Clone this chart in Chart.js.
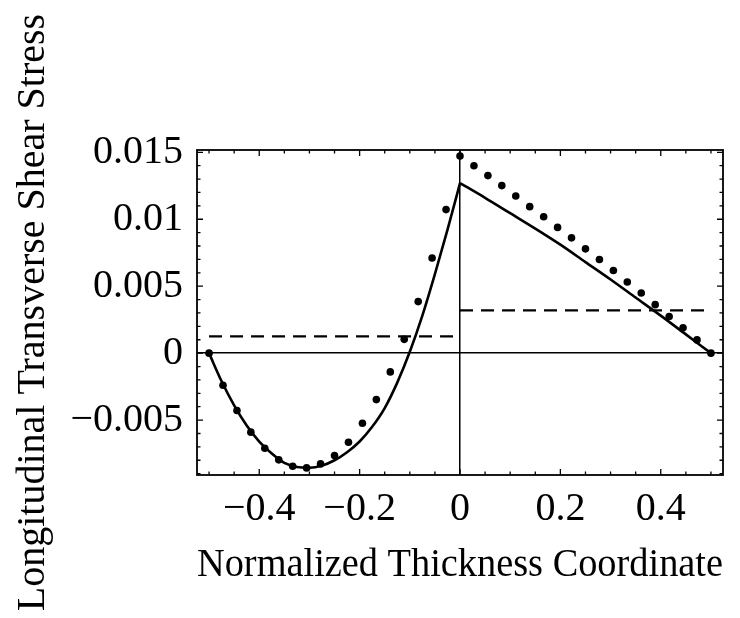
<!DOCTYPE html>
<html>
<head>
<meta charset="utf-8">
<script src="https://cdn.jsdelivr.net/npm/chart.js@4/dist/chart.umd.min.js"></script>
<style>
  html, body { margin: 0; padding: 0; background: #ffffff; }
  #wrap { width: 740px; height: 618px; }
</style>
</head>
<body>
<div id="wrap"><canvas id="c" width="740" height="618"></canvas></div>
<script>
// ---- Data ----
const dotX = [-0.5, -0.4722, -0.4444, -0.4167, -0.3889, -0.3611, -0.3333, -0.3056, -0.2778, -0.25,
              -0.2222, -0.1944, -0.1667, -0.1389, -0.1111, -0.0833, -0.0556, -0.0278, 0,
              0.0278, 0.0556, 0.0833, 0.1111, 0.1389, 0.1667, 0.1944, 0.2222, 0.25,
              0.2778, 0.3056, 0.3333, 0.3611, 0.3889, 0.4167, 0.4444, 0.4722, 0.5];
const dotY = [0, -0.0024, -0.00428, -0.0059, -0.0071, -0.00797, -0.00845, -0.00857, -0.00827, -0.00765,
              -0.00665, -0.00523, -0.00347, -0.0014, 0.00103, 0.00385, 0.0071, 0.01072, 0.01472,
              0.01399, 0.01326, 0.01251, 0.01174, 0.01094, 0.01019, 0.00939, 0.00861, 0.00779,
              0.00699, 0.00617, 0.00531, 0.00449, 0.00362, 0.00274, 0.00189, 0.00099, 0];

const leftCurveX = [-0.5, -0.475, -0.45, -0.425, -0.4, -0.375, -0.35, -0.325, -0.3, -0.275, -0.25,
                    -0.225, -0.2, -0.175, -0.15, -0.125, -0.1, -0.075, -0.05, -0.025, 0];
const leftCurveY = [0, -0.0021, -0.0039, -0.0054, -0.0066, -0.0075, -0.0082, -0.0085, -0.00856, -0.0084, -0.0080,
                    -0.0074, -0.0066, -0.0055, -0.0041, -0.0022, 0.0001, 0.0028, 0.0059, 0.0092, 0.0127];

const rightCurveX = [0, 0.05, 0.1, 0.15, 0.2, 0.25, 0.3, 0.35, 0.4, 0.45, 0.5];
const rightCurveY = [0.0127, 0.0116, 0.01045, 0.0093, 0.0081, 0.0068, 0.0055, 0.00415, 0.0028, 0.0014, 0];

const leftDashX = [-0.5, 0];
const leftDashY = [0.00125, 0.00125];
const rightDashX = [0, 0.5];
const rightDashY = [0.0032, 0.0032];

const xTickValues = [-0.4, -0.2, 0, 0.2, 0.4];
const xTickLabels = ['\u22120.4', '\u22120.2', '0', '0.2', '0.4'];
const yTickValues = [-0.005, 0, 0.005, 0.01, 0.015];
const yTickLabels = ['\u22120.005', '0', '0.005', '0.01', '0.015'];

const xTitle = 'Normalized Thickness Coordinate';
const yTitle = 'Longitudinal Transverse Shear Stress';

// ---- helpers ----
const pts = (xs, ys) => xs.map((x, i) => ({ x: x, y: ys[i] }));
const FONT = 'Liberation Serif, Times New Roman, serif';

const framePlugin = {
  id: 'frame',
  afterDatasetsDraw(chart) {
    const { ctx, chartArea: a, scales } = chart;
    const xs = scales.x, ys = scales.y;
    ctx.save();
    ctx.strokeStyle = '#000';
    ctx.lineWidth = 1.8;
    ctx.strokeRect(a.left, a.top, a.right - a.left, a.bottom - a.top);
    ctx.lineWidth = 1.3;
    const major = 6, minor = 3.5;
    ctx.beginPath();
    for (let k = -10; k <= 10; k++) {
      const v = k * 0.05;
      const isMajor = xTickValues.some(t => Math.abs(t - v) < 1e-9);
      const len = isMajor ? major : minor;
      const px = xs.getPixelForValue(v);
      if (px < a.left || px > a.right) continue;
      ctx.moveTo(px, a.bottom); ctx.lineTo(px, a.bottom - len);
      ctx.moveTo(px, a.top); ctx.lineTo(px, a.top + len);
    }
    for (let k = -9; k <= 15; k++) {
      const v = k * 0.001;
      const isMajor = yTickValues.some(t => Math.abs(t - v) < 1e-9);
      const len = isMajor ? major : minor;
      const py = ys.getPixelForValue(v);
      if (py < a.top || py > a.bottom) continue;
      ctx.moveTo(a.left, py); ctx.lineTo(a.left + len, py);
      ctx.moveTo(a.right, py); ctx.lineTo(a.right - len, py);
    }
    ctx.stroke();
    ctx.restore();
  }
};

const zeroGrid = (c) => (c.tick && Math.abs(c.tick.value) < 1e-12) ? '#000' : 'rgba(0,0,0,0)';

new Chart(document.getElementById('c'), {
  type: 'scatter',
  data: {
    datasets: [
      {
        type: 'line', data: pts(leftCurveX, leftCurveY), borderColor: '#000', borderWidth: 2.6,
        pointRadius: 0, cubicInterpolationMode: 'monotone', fill: false
      },
      {
        type: 'line', data: pts(rightCurveX, rightCurveY), borderColor: '#000', borderWidth: 2.6,
        pointRadius: 0, cubicInterpolationMode: 'monotone', fill: false
      },
      {
        type: 'line', data: pts(leftDashX, leftDashY), borderColor: '#000', borderWidth: 2.2,
        borderDash: [13, 8], pointRadius: 0, fill: false
      },
      {
        type: 'line', data: pts(rightDashX, rightDashY), borderColor: '#000', borderWidth: 2.2,
        borderDash: [13, 8], pointRadius: 0, fill: false
      },
      {
        type: 'scatter', data: pts(dotX, dotY), backgroundColor: '#000', borderColor: '#000',
        borderWidth: 0, pointRadius: 3.8, showLine: false
      }
    ]
  },
  options: {
    responsive: false,
    animation: false,
    events: [],
    layout: { padding: { top: 150, right: 17, bottom: 0, left: 0 } },
    plugins: { legend: { display: false }, tooltip: { enabled: false } },
    scales: {
      x: {
        type: 'linear', min: -0.524, max: 0.524,
        afterBuildTicks: (s) => { s.ticks = xTickValues.map(v => ({ value: v })); },
        afterFit: (s) => { s.height = 143; },
        ticks: {
          autoSkip: false, maxRotation: 0, color: '#000', padding: 10,
          font: { family: FONT, size: 40 },
          callback: (v, i) => xTickLabels[i]
        },
        grid: { color: zeroGrid, lineWidth: 1.5, drawTicks: false },
        border: { display: false },
        title: {
          display: true, text: xTitle, color: '#000',
          font: { family: FONT, size: 39 }, padding: { top: 0, bottom: 29 }
        }
      },
      y: {
        type: 'linear', min: -0.0091, max: 0.01517,
        afterBuildTicks: (s) => { s.ticks = yTickValues.map(v => ({ value: v })); },
        afterFit: (s) => { s.width = 197; },
        ticks: {
          autoSkip: false, color: '#000', padding: 14,
          font: { family: FONT, size: 40 },
          callback: (v, i) => yTickLabels[i]
        },
        grid: { color: zeroGrid, lineWidth: 1.5, drawTicks: false },
        border: { display: false },
        title: {
          display: true, text: yTitle, color: '#000',
          font: { family: FONT, size: 40 }, padding: { top: 9, bottom: 0 }
        }
      }
    }
  },
  plugins: [framePlugin]
});
</script>
</body>
</html>
